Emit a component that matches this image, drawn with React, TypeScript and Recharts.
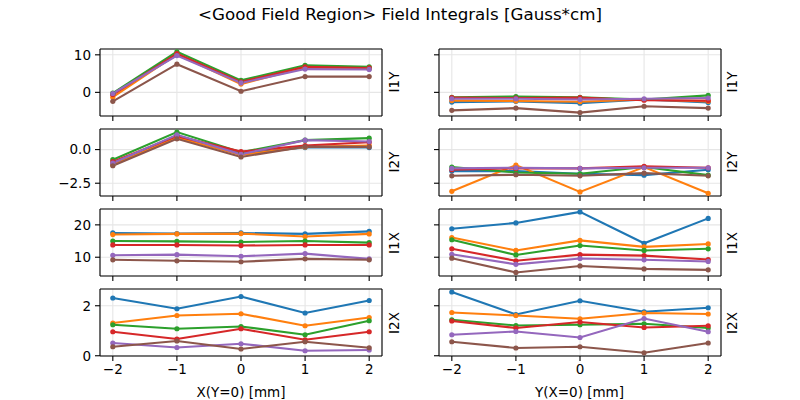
import { CartesianGrid, Line, LineChart, ReferenceLine, XAxis, YAxis } from "recharts";

const xPos = [-2, -1, 0, 1, 2];
const colors = ["#1f77b4", "#ff7f0e", "#2ca02c", "#d62728", "#9467bd", "#8c564b"];

// I1Y
const i1yAlongX = [
  [-0.5, 10.0, 2.8, 6.5, 6.3],
  [-1.3, 10.2, 2.2, 6.6, 6.4],
  [-0.2, 10.8, 3.2, 7.2, 6.8],
  [-0.6, 10.3, 2.8, 6.8, 6.5],
  [-0.3, 9.8, 2.5, 6.2, 6.1],
  [-2.4, 7.5, 0.3, 4.2, 4.2],
];
const i1yAlongY = [
  [-2.6, -2.4, -2.9, -1.9, -2.7],
  [-2.2, -2.3, -2.5, -1.9, -2.4],
  [-1.3, -1.1, -1.3, -1.9, -0.8],
  [-1.4, -1.5, -1.4, -2.1, -2.2],
  [-1.7, -1.7, -1.9, -1.7, -1.5],
  [-4.8, -4.2, -5.4, -3.7, -4.2],
];
// I2Y
const i2yAlongX = [
  [-1.1, 1.05, -0.3, 0.15, 0.15],
  [-1.15, 0.9, -0.4, 0.2, 0.3],
  [-0.75, 1.3, -0.2, 0.7, 0.85],
  [-0.9, 1.0, -0.15, 0.3, 0.55],
  [-1.0, 1.1, -0.35, 0.7, 0.6],
  [-1.2, 0.8, -0.55, 0.22, 0.2],
];
const i2yAlongY = [
  [-1.6, -1.6, -1.8, -1.9, -1.5],
  [-3.1, -1.15, -3.15, -1.3, -3.25],
  [-1.3, -1.7, -1.8, -1.3, -1.9],
  [-1.5, -1.4, -1.4, -1.25, -1.35],
  [-1.4, -1.35, -1.4, -1.35, -1.35],
  [-1.95, -1.87, -1.95, -1.75, -1.95],
];
// I1X
const i1xAlongX = [
  [17.5, 17.3, 17.5, 17.2, 18.0],
  [17.0, 17.2, 17.3, 16.4, 17.2],
  [15.0, 14.9, 14.7, 15.0, 14.5],
  [13.8, 13.8, 13.6, 13.8, 13.8],
  [10.6, 10.8, 10.3, 11.1, 9.5],
  [9.2, 8.9, 8.6, 9.5, 9.2],
];
const i1xAlongY = [
  [18.8, 20.6, 24.0, 14.3, 22.0],
  [16.1, 12.1, 15.2, 13.2, 14.1],
  [15.4, 10.7, 13.6, 12.1, 12.6],
  [12.6, 8.9, 10.8, 10.5, 9.3],
  [10.9, 7.8, 9.6, 9.2, 8.7],
  [9.7, 5.3, 7.3, 6.4, 6.1],
];
// I2X
const i2xAlongX = [
  [2.31, 1.88, 2.37, 1.71, 2.21],
  [1.31, 1.61, 1.68, 1.2, 1.53],
  [1.24, 1.08, 1.17, 0.84, 1.4],
  [0.96, 0.67, 1.08, 0.64, 0.96],
  [0.51, 0.33, 0.48, 0.2, 0.23],
  [0.36, 0.59, 0.27, 0.56, 0.32],
];
const i2xAlongY = [
  [2.55, 1.65, 2.2, 1.76, 1.92],
  [1.73, 1.61, 1.48, 1.71, 1.67],
  [1.44, 1.21, 1.24, 1.28, 1.11],
  [1.39, 1.11, 1.35, 1.13, 1.2],
  [0.84, 0.97, 0.73, 1.49, 0.96],
  [0.56, 0.31, 0.36, 0.12, 0.51],
];

const rowLabels = ["I1Y", "I2Y", "I1X", "I2X"];
const rowTicks = [[0, 10], [-2.5, 0], [10, 20], [0, 2]];
const rowDomains: [number, number][] = [[-6.3, 11.55], [-3.45, 1.53], [4.2, 24.9], [-0.01, 2.67]];
const rowDecimals = [0, 1, 0, 0];

const font = "DejaVu Sans";
const plotW = 282;
const plotH = 67;
const colLeft = [100, 438.5];
const rowTop = [48.5, 128.8, 209, 289.3];
const fs = 13.5;

const minus = (v: number, d: number) => v.toFixed(d).replace("-", "\u2212");

function Panel({ series, row, col }: { series: number[][]; row: number; col: number }) {
  const data = xPos.map((x, i) => {
    const r: Record<string, number> = { x };
    series.forEach((s, k) => (r["s" + k] = s[i]));
    return r;
  });
  const domain = rowDomains[row];
  const bottom = row === 3;
  const left = colLeft[col];
  const top = rowTop[row];
  return <>
    <div style={{ position: "absolute", left: left - 50, top: top - 5 }}>
      <LineChart width={plotW + 55} height={plotH + 30} data={data} margin={{ top: 5, right: 5, bottom: 0, left: 0 }}>
        <CartesianGrid stroke="#e6e6e6" strokeWidth={1.1} />
        <XAxis type="number" dataKey="x" domain={[-2.2, 2.2]} ticks={xPos} interval={0} allowDataOverflow height={25}
          tickSize={5} tickMargin={3} stroke="#000" strokeWidth={1.1}
          tick={{ fill: "#000", fontSize: fs, fontFamily: font }}
          tickFormatter={(v) => (bottom ? minus(v, 0) : "")} />
        <YAxis type="number" domain={domain} ticks={rowTicks[row]} interval={0} allowDataOverflow width={50}
          tickSize={5} tickMargin={4} stroke="#000" strokeWidth={1.1}
          tick={{ fill: "#000", fontSize: fs, fontFamily: font }}
          tickFormatter={(v) => (col === 0 ? minus(v, rowDecimals[row]) : "")} />
        {series.map((_, k) => <Line key={k} type="linear" dataKey={"s" + k} stroke={colors[k]} strokeWidth={2.1}
          dot={{ r: 2.6, fill: colors[k], stroke: colors[k], strokeWidth: 0 }} activeDot={false} isAnimationActive={false} />)}
        <ReferenceLine y={domain[1]} stroke="#000" strokeWidth={1.1} />
        <ReferenceLine x={2.2} stroke="#000" strokeWidth={1.1} />
      </LineChart>
    </div>
    <div style={{ position: "absolute", left: left + plotW + 11.5, top: top + plotH / 2, transform: "translate(-50%, -50%) rotate(-90deg)", fontFamily: font, fontSize: fs, whiteSpace: "nowrap" }}>
      {rowLabels[row]}
    </div>
  </>;
}

export default function App() {
  const grid = [[i1yAlongX, i1yAlongY], [i2yAlongX, i2yAlongY], [i1xAlongX, i1xAlongY], [i2xAlongX, i2xAlongY]];
  return <div style={{ position: "absolute", left: 0, top: 0, width: 800, height: 400, background: "#fff", fontFamily: font, overflow: "hidden" }}>
    <div style={{ position: "absolute", left: 0, width: 800, top: 4, textAlign: "center", fontSize: 16.7, lineHeight: "20px" }}>
      &lt;Good Field Region&gt; Field Integrals [Gauss*cm]
    </div>
    {grid.map((pair, row) => pair.map((series, col) => <Panel key={row + "-" + col} series={series} row={row} col={col} />))}
    <div style={{ position: "absolute", left: colLeft[0], width: plotW, top: 384, textAlign: "center", fontSize: fs }}>X(Y=0) [mm]</div>
    <div style={{ position: "absolute", left: colLeft[1], width: plotW, top: 384, textAlign: "center", fontSize: fs }}>Y(X=0) [mm]</div>
  </div>;
}
